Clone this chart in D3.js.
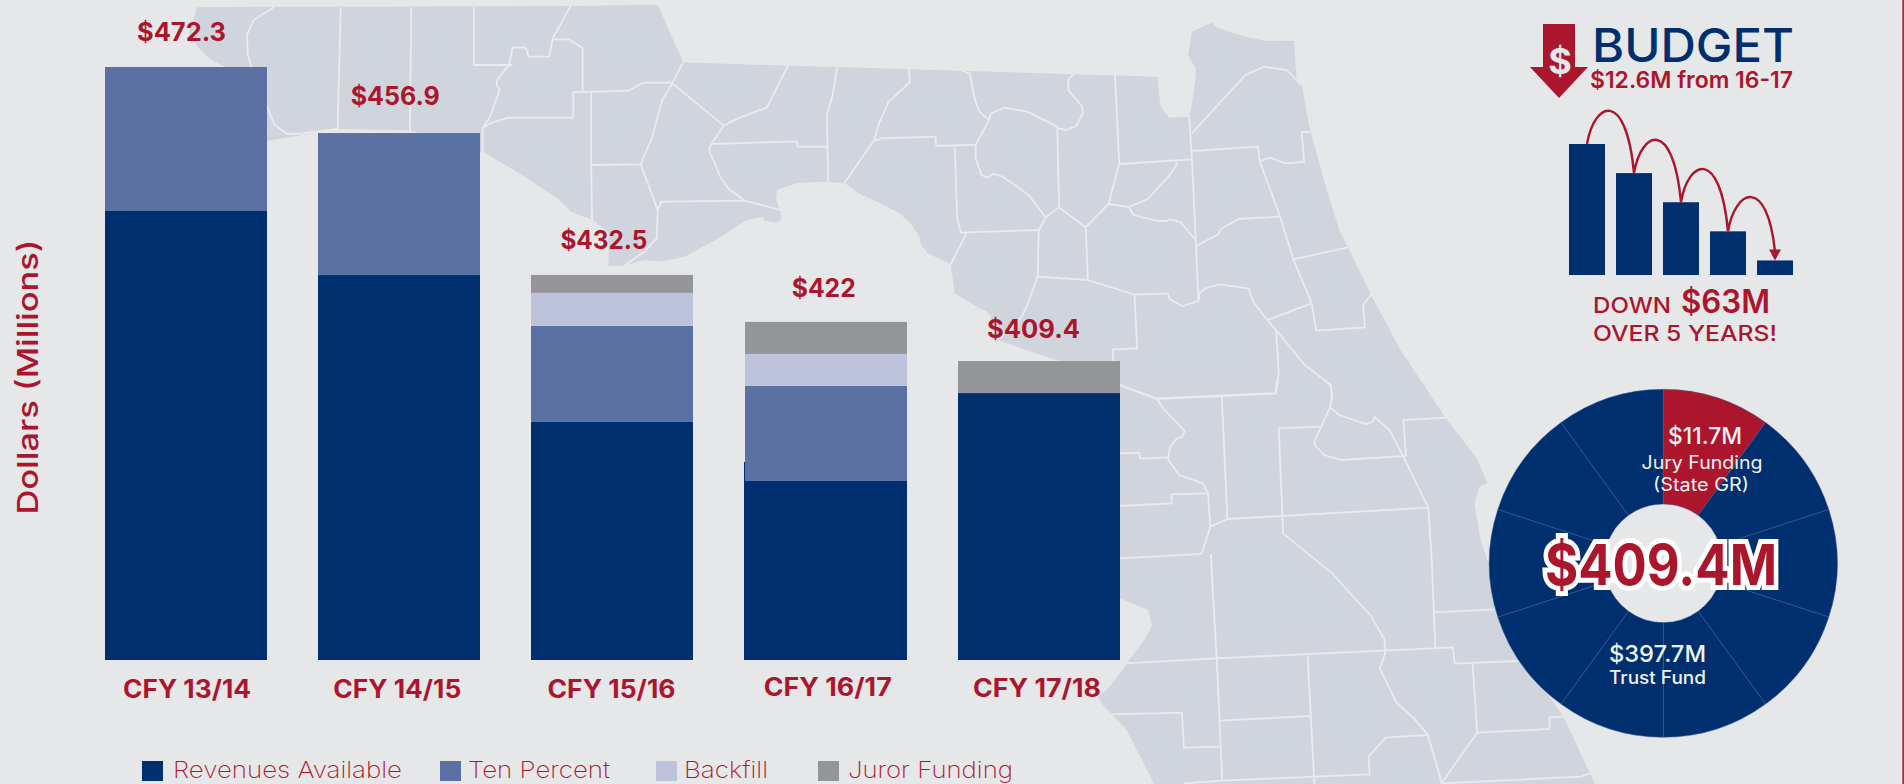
<!DOCTYPE html>
<html>
<head>
<meta charset="utf-8">
<script src="https://cdn.jsdelivr.net/npm/d3@7"></script>
<style>
    html, body { margin: 0; padding: 0; background: #e6e7e9; overflow: hidden; }
    svg { display: block; }
    text { font-family: Inter, "Open Sans", sans-serif; }
</style>
</head>
<body>
<div id="chart"></div>
<script>
const categories = ["CFY 13/14", "CFY 14/15", "CFY 15/16", "CFY 16/17", "CFY 17/18"];
const totalLabels = ["$472.3", "$456.9", "$432.5", "$422", "$409.4"];
const seriesNames = ["Revenues Available", "Ten Percent", "Backfill", "Juror Funding"];

// segment heights as drawn in the picture, they do not add up to the printed totals
const revenuesAvailable = [357.6, 306.6, 189.6, 142.6, 212.6];
const tenPercent = [114.7, 113.1, 76.5, 75.7, 0];
const backfill = [0, 0, 26.3, 25.5, 0];
const jurorFunding = [0, 0, 14.3, 25.5, 25.5];
// the CFY 16/17 revenue bar peeks out behind the ten percent block up to here
const revenuesBehind1617 = 157.7;

const miniBars = [4.5, 3.5, 2.5, 1.5, 0.5];
const donutSlices = [1, 1, 1, 1, 1, 1, 1, 1, 1, 1];

const RED = "#ac162c";
const NAVY = "#002f6f";
const seriesColors = [NAVY, "#5b71a3", "#bec3dc", "#949598"];

// county map behind the bars, traced in three overlapping frames
const frameA = { dx: 180, dy: 0, sx: 2.24, sy: 3 };
const frameB = { dx: 880, dy: 0, sx: 2.613, sy: 3 };
const frameC = { dx: 1000, dy: 380, sx: 2.529, sy: 3 };

const landA1 = [[38,22],[210,20],[875,18],[1070,14],[1127,187],[1362,197],[1568,205]];
const landB1 = [[0,205],[725,230],[733,320],[755,353],[810,350],[825,230],[825,205],[805,165],[815,95],[867,68],[885,85],[955,110],[1005,122],[1082,123],[1088,235],[1103,258],[1115,340],[1125,395],[1165,560],[1200,690],[1222,740],[1283,885],[1360,1050],[1447,1200]];
const landC = [[1097,60],[1125,110],[1205,235],[1233,308],[1212,320],[1200,370],[1215,480],[1238,560],[1300,800],[1425,1010],[1492,1180],[1505,1212],[390,1212],[320,1050],[285,1005],[260,975],[248,950],[270,930],[310,870],[320,850],[365,780],[385,735],[375,690],[303,655]];
const landB2 = [[470,1083],[305,1020],[290,950],[280,935],[260,925],[195,880],[185,793],[125,760],[108,735],[103,710],[80,670],[50,640],[0,610]];
const landA2 = [[1568,610],[1520,580],[1490,550],[1450,545],[1385,548],[1337,570],[1335,600],[1345,630],[1347,660],[1335,668],[1310,662],[1305,650],[1270,660],[1200,720],[1130,770],[1075,785],[1040,780],[995,797],[960,797],[960,700],[925,660],[920,658],[875,635],[850,600],[760,520],[680,457],[535,400],[515,391],[355,387],[275,405],[195,423],[100,200],[70,180],[45,150],[20,100],[30,60]];

const bordersA = [
    [[210,22],[165,60],[150,105],[152,165],[160,200],[195,320],[212,375],[240,402],[275,400],[353,387]],
    [[360,22],[353,387]],
    [[518,22],[515,391]],
    [[658,22],[658,195],[745,195]],
    [[875,18],[835,115],[827,170],[780,170],[778,150],[772,143],[745,143],[737,195],[710,240],[710,258],[716,268],[695,350],[678,385],[678,457]],
    [[835,118],[872,118],[902,145],[902,275]],
    [[678,385],[695,370],[735,353],[881,353],[881,277],[1005,272],[1037,248],[1103,248],[1127,187]],
    [[921,277],[921,495],[923,660]],
    [[921,495],[1032,493],[1058,410],[1080,300],[1103,250],[1218,377]],
    [[1032,493],[1070,630],[1068,715],[1040,755],[995,797]],
    [[1070,630],[1078,605],[1265,602],[1345,630]],
    [[1265,602],[1230,568],[1210,530],[1185,450],[1190,433],[1218,377],[1250,355],[1315,322],[1362,197]],
    [[1190,432],[1382,424],[1384,440],[1450,440]],
    [[1472,202],[1462,285],[1449,345],[1452,545]],
    [[1488,550],[1555,420],[1568,360]],
    [[1555,420],[1568,418]]
];
const bordersB = [
    [[0,365],[22,305],[78,247],[75,207]],
    [[0,415],[145,410],[147,438],[250,434],[285,360],[260,335],[248,300],[235,222],[215,212]],
    [[195,438],[202,658],[212,698],[415,690],[433,652],[468,622],[537,682],[597,612],[625,492],[614,225]],
    [[226,700],[185,793]],
    [[250,434],[250,475],[265,525],[283,533],[295,522],[320,530],[340,545],[390,587],[433,652]],
    [[285,360],[290,340],[325,323],[385,335],[463,380],[468,622]],
    [[463,385],[485,390],[513,378],[531,338],[527,318],[492,270],[492,240],[505,222]],
    [[625,492],[815,478],[808,350]],
    [[815,478],[825,720],[832,900]],
    [[815,400],[955,225],[1003,200],[1063,210],[1100,255]],
    [[817,453],[988,440],[992,483],[1020,473],[1058,490],[1108,486],[1102,396],[1125,396]],
    [[992,483],[1045,648],[1080,778],[1128,910],[1140,992],[1267,982],[1262,915],[1283,885]],
    [[1080,778],[1222,742]],
    [[1045,650],[937,657],[890,688],[885,702],[828,737]],
    [[775,485],[775,495],[757,525],[700,597],[650,621],[597,612]],
    [[650,621],[662,645],[725,663],[750,663],[757,658],[785,666],[825,720]],
    [[538,682],[543,840],[412,830],[415,690]],
    [[412,830],[385,915],[370,950],[340,990],[305,1020]],
    [[543,840],[665,884],[752,880],[757,897],[790,918],[832,903],[835,880],[850,865],[888,853],[963,866],[975,905],[1012,960],[1035,990],[1110,1095],[1178,1155],[1182,1200]],
    [[1012,960],[1128,910]],
    [[665,884],[672,1045],[608,1048],[610,1085]],
    [[1035,990],[1042,1115],[1035,1180],[722,1195],[627,1155]],
    [[893,1190],[893,1200]]
];
const bordersC = [
    [[303,15],[397,57],[697,40],[701,0]],
    [[397,57],[415,88],[467,153],[460,172],[448,175],[430,200],[425,238],[453,285],[513,310],[526,340],[532,440],[575,417],[561,50]],
    [[303,220],[352,218],[355,236],[425,232]],
    [[303,378],[434,370],[434,343],[526,340]],
    [[532,440],[510,522],[303,535]],
    [[533,522],[548,835],[315,850]],
    [[575,417],[1083,383],[1020,230],[985,150],[948,112],[943,125],[925,132],[858,105],[835,82],[840,45],[835,15],[820,0]],
    [[835,82],[812,140],[705,145],[716,460],[840,580],[938,708],[972,778],[975,815]],
    [[812,140],[795,185],[797,197],[820,225],[865,240],[1027,228],[1020,120],[1128,113]],
    [[1083,383],[1092,545],[1101,803]],
    [[1098,697],[1250,688]],
    [[548,835],[1145,802],[1150,851],[1310,843]],
    [[975,815],[961,865],[1003,968],[1047,1015],[1082,1065],[975,1073],[932,1130],[935,1183],[795,1190],[562,1202],[465,1210]],
    [[778,827],[795,1212]],
    [[548,835],[562,1202]],
    [[556,1022],[785,1008]],
    [[280,1003],[460,998],[465,1103],[556,1100]],
    [[1195,852],[1207,1058],[1390,1047],[1390,1012],[1425,1010]],
    [[1207,1058],[1115,1212]],
    [[1082,1065],[1118,1212]],
    [[1118,1210],[1468,1190],[1492,1180]]
];

const svg = d3.select("#chart").append("svg")
    .attr("width", 1904)
    .attr("height", 784)
    .style("background", "#e6e7e9");

function toPage(points, f) {
    return points.map(p => [f.dx + p[0] / f.sx, f.dy + p[1] / f.sy]);
}

function drawMap() {
    const line = d3.line();
    const map = svg.append("g").attr("class", "map");
    const outline = [].concat(
        toPage(landA1, frameA), toPage(landB1, frameB), toPage(landC, frameC),
        toPage(landB2, frameB), toPage(landA2, frameA)
    );
    map.append("path")
        .attr("d", line(outline) + "Z")
        .attr("fill", "#d0d4dd");

    const borders = [].concat(
        bordersA.map(b => toPage(b, frameA)),
        bordersB.map(b => toPage(b, frameB)),
        bordersC.map(b => toPage(b, frameC))
    );
    map.selectAll("path.border")
        .data(borders)
        .join("path")
        .attr("class", "border")
        .attr("d", line)
        .attr("fill", "none")
        .attr("stroke", "#eaebed")
        .attr("stroke-width", 1.8);
}

// small helper, every string is pinned to the width it has in the picture
function label(x, y, str, size, weight, color, width, anchor) {
    const t = svg.append("text")
        .attr("x", x)
        .attr("y", y)
        .attr("font-size", size)
        .attr("font-weight", weight)
        .attr("fill", color)
        .attr("text-anchor", anchor || "middle")
        .text(str);
    if (width) t.attr("textLength", width).attr("lengthAdjust", "spacingAndGlyphs");
    return t;
}

function drawBars() {
    const x = d3.scaleBand().domain(categories).range([105, 1120]).paddingInner(0.24);
    const y = d3.scaleLinear().domain([0, 472.3]).range([660, 67]);
    const left = c => Math.round(x(c));
    const barW = Math.round(x.bandwidth());

    const rows = categories.map((c, i) => ({
        category: c,
        "Revenues Available": revenuesAvailable[i],
        "Ten Percent": tenPercent[i],
        "Backfill": backfill[i],
        "Juror Funding": jurorFunding[i]
    }));
    const stacked = d3.stack().keys(seriesNames)(rows);

    svg.append("rect")
        .attr("x", left(categories[3]) - 1)
        .attr("y", y(revenuesBehind1617))
        .attr("width", 2)
        .attr("height", y(0) - y(revenuesBehind1617))
        .attr("fill", NAVY);

    svg.append("g").selectAll("g")
        .data(stacked)
        .join("g")
        .attr("fill", (d, i) => seriesColors[i])
        .selectAll("rect")
        .data(d => d)
        .join("rect")
        .attr("x", d => left(d.data.category))
        .attr("y", d => y(d[1]))
        .attr("width", barW)
        .attr("height", d => y(d[0]) - y(d[1]));

    const axis = svg.append("g")
        .attr("transform", "translate(0,660)")
        .call(d3.axisBottom(x).tickSize(0));
    axis.select(".domain").remove();
    const catDx = [1, -2, -1, 2, -2];
    const catBase = [38, 38, 38, 36, 37];
    axis.selectAll("text")
        .attr("x", (d, i) => catDx[i])
        .attr("y", (d, i) => catBase[i])
        .attr("dy", 0)
        .attr("fill", RED)
        .attr("font-size", 25)
        .attr("font-weight", 700)
        .attr("font-family", "Inter")
        .attr("textLength", 128)
        .attr("lengthAdjust", "spacingAndGlyphs");

    const totalDx = [-4.5, -4, -8.6, -2, -5.4];
    const totalBase = [41, 105, 249, 297, 338];
    totalLabels.forEach((t, i) => {
        const w = [89, 89, 87, 64, 93][i];
        label(x(categories[i]) + x.bandwidth() / 2 + totalDx[i], totalBase[i], t, 25, 700, RED, w);
    });

    const legendX = [142, 440, 656, 818];
    const legendTextX = [173, 468, 684, 848];
    const legendW = [229, 142, 84, 165];
    seriesNames.forEach((s, i) => {
        svg.append("rect")
            .attr("x", legendX[i]).attr("y", 761)
            .attr("width", 21).attr("height", 20)
            .attr("fill", seriesColors[i]);
        label(legendTextX[i], 778, s, 23, 200, RED, legendW[i], "start");
    });

    svg.append("text")
        .attr("transform", "translate(38,377) rotate(-90)")
        .attr("text-anchor", "middle")
        .attr("font-size", 29)
        .attr("font-weight", 500)
        .attr("fill", RED)
        .attr("textLength", 275)
        .attr("lengthAdjust", "spacingAndGlyphs")
        .text("Dollars (Millions)");
}

function drawBudget() {
    const arrow = d3.path();
    arrow.moveTo(1543, 24);
    arrow.lineTo(1575, 24);
    arrow.lineTo(1575, 67);
    arrow.lineTo(1588, 67);
    arrow.lineTo(1559, 98);
    arrow.lineTo(1530, 67);
    arrow.lineTo(1543, 67);
    arrow.closePath();
    svg.append("path").attr("d", arrow.toString()).attr("fill", RED);
    label(1560, 74, "$", 36, 700, "#e6e7e9");

    label(1592, 62, "BUDGET", 47, 500, NAVY, 202, "start");
    label(1590, 88, "$12.6M from 16-17", 23, 600, RED, 203, "start");

    const x = d3.scaleBand().domain(d3.range(miniBars.length)).range([1569, 1793]).paddingInner(0.234);
    const y = d3.scaleLinear().domain([0, 4.5]).range([275, 144]);

    svg.append("g").selectAll("rect")
        .data(miniBars)
        .join("rect")
        .attr("x", (d, i) => x(i))
        .attr("y", d => y(d))
        .attr("width", x.bandwidth())
        .attr("height", d => y(0) - y(d))
        .attr("fill", NAVY);

    // hops from the top of one bar to the next
    const hop = d3.path();
    miniBars.slice(1).forEach((d, i) => {
        const x0 = x(i) + x.bandwidth() / 2;
        const y0 = y(miniBars[i]);
        const x1 = x(i + 1) + x.bandwidth() / 2;
        const y1 = i === miniBars.length - 2 ? y(d) - 9 : y(d);
        hop.moveTo(x0, y0);
        hop.bezierCurveTo(x0 + 7, y0 - 42, x1 - 8, y0 - 56, x1, y1);
    });
    svg.append("path")
        .attr("d", hop.toString())
        .attr("fill", "none")
        .attr("stroke", RED)
        .attr("stroke-width", 2.4);

    const tipX = x(4) + x.bandwidth() / 2;
    const tipY = y(miniBars[4]);
    const head = d3.path();
    head.moveTo(tipX, tipY);
    head.lineTo(tipX - 6, tipY - 11);
    head.lineTo(tipX + 6, tipY - 11);
    head.closePath();
    svg.append("path").attr("d", head.toString()).attr("fill", RED);

    label(1593, 313, "DOWN", 22, 500, RED, 78, "start");
    label(1681, 313, "$63M", 32, 600, RED, 89, "start");
    label(1593, 341, "OVER 5 YEARS!", 22, 500, RED, 184, "start");
}

function drawDonut() {
    const pie = d3.pie().sort(null).value(d => d);
    const arc = d3.arc().innerRadius(59.3).outerRadius(174);

    svg.append("g")
        .attr("transform", "translate(1663.3,563.3)")
        .selectAll("path")
        .data(pie(donutSlices))
        .join("path")
        .attr("d", arc)
        .attr("fill", (d, i) => i === 0 ? RED : NAVY)
        .attr("stroke", "#3d5c8e")
        .attr("stroke-width", 0.5);

    label(1705, 444, "$11.7M", 23, 500, "#f1f2f4", 74);
    label(1702, 469, "Jury Funding", 18, 400, "#f1f2f4", 121);
    label(1701, 491, "(State GR)", 18, 400, "#f1f2f4", 96);
    label(1657.5, 662, "$397.7M", 23, 500, "#f1f2f4", 97);
    label(1657.5, 684, "Trust Fund", 18, 500, "#f1f2f4", 97);

    label(1661, 585, "$409.4M", 56, 700, RED, 232)
        .attr("stroke", "#fff")
        .attr("stroke-width", 10)
        .attr("stroke-linejoin", "miter")
        .attr("paint-order", "stroke");
}

drawMap();
drawBars();
drawBudget();
drawDonut();

// thin red rule down the right edge of the page
svg.append("rect")
    .attr("x", 1902.3)
    .attr("y", 0)
    .attr("width", 1.7)
    .attr("height", 784)
    .attr("fill", "#b3233f");
</script>
</body>
</html>
